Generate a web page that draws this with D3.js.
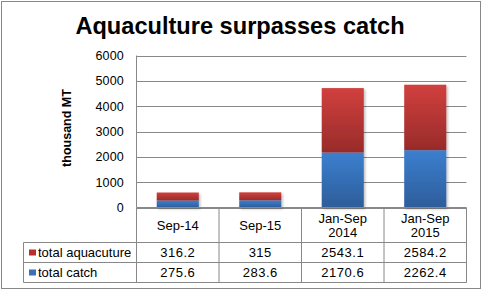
<!DOCTYPE html>
<html>
<head>
<meta charset="utf-8">
<script src="https://cdn.jsdelivr.net/npm/d3@7"></script>
<style>
  body { margin: 0; background: #fff; }
  text { font-family: "Liberation Sans", Arial, sans-serif; fill: #000; }
</style>
</head>
<body>
<svg id="chart" width="483" height="291"></svg>
<script>
// Aquaculture vs catch, stacked columns with a data table underneath.
const categories = [["Sep-14"], ["Sep-15"], ["Jan-Sep", "2014"], ["Jan-Sep", "2015"]];
const catchVals = [275.6, 283.6, 2170.6, 2262.4];
const aquaVals  = [316.2, 315, 2543.1, 2584.2];
const catchLabels = ["275.6", "283.6", "2170.6", "2262.4"];
const aquaLabels  = ["316.2", "315", "2543.1", "2584.2"];
const yTicks = [0, 1000, 2000, 3000, 4000, 5000, 6000];

const svg = d3.select("#chart");
const defs = svg.append("defs");

function grad(id, c1, c2) {
    const g = defs.append("linearGradient").attr("id", id)
        .attr("x1", 0).attr("y1", 0).attr("x2", 0).attr("y2", 1);
    g.append("stop").attr("offset", "0%").attr("stop-color", c1);
    g.append("stop").attr("offset", "100%").attr("stop-color", c2);
}
grad("gRed", "#d1403e", "#982b2a");
grad("gBlue", "#3c7fcf", "#2d5d9a");

const f = defs.append("filter").attr("id", "shadow")
    .attr("x", "-20%").attr("y", "-20%").attr("width", "150%").attr("height", "150%");
f.append("feDropShadow").attr("dx", 1.5).attr("dy", 1.5).attr("stdDeviation", 1.2)
    .attr("flood-color", "#000").attr("flood-opacity", 0.25);

// outer frame
svg.append("rect").attr("x", 1.5).attr("y", 1.5).attr("width", 479).attr("height", 287)
    .attr("fill", "none").attr("stroke", "#888").attr("stroke-width", 1);

svg.append("text").attr("x", 240).attr("y", 33.5).attr("text-anchor", "middle")
    .style("font-weight", "bold").style("font-size", "23.6px")
    .text("Aquaculture surpasses catch");

const pLeft = 136.5, pRight = 466.5, pTop = 55.5, pBottom = 207.5;

const x = d3.scaleBand().domain(d3.range(categories.length))
    .range([pLeft, pRight]).paddingInner(0.49).paddingOuter(0.245);
const y = d3.scaleLinear().domain([0, 6000]).range([pBottom, pTop]);

// gridlines
svg.append("g").selectAll("line").data(yTicks).join("line")
    .attr("x1", pLeft).attr("x2", pRight)
    .attr("y1", d => Math.round(y(d)) + 0.5).attr("y2", d => Math.round(y(d)) + 0.5)
    .attr("stroke", "#888");

// y axis line
svg.append("line").attr("x1", pLeft).attr("x2", pLeft).attr("y1", pTop).attr("y2", pBottom)
    .attr("stroke", "#888");

svg.append("g").selectAll("text").data(yTicks).join("text")
    .attr("x", 124).attr("y", d => y(d) + 4.5).attr("text-anchor", "end")
    .style("font-size", "12.5px").style("letter-spacing", "0.2px").text(d => d);

svg.append("text").attr("transform", "translate(71,128) rotate(-90)")
    .attr("text-anchor", "middle").style("font-weight", "bold").style("font-size", "12.5px")
    .text("thousand MT");

// stacked bars
const bars = svg.append("g").attr("filter", "url(#shadow)");
bars.selectAll("rect.catch").data(catchVals).join("rect").attr("class", "catch")
    .attr("x", (d, i) => x(i)).attr("width", x.bandwidth())
    .attr("y", d => y(d)).attr("height", d => y(0) - y(d))
    .attr("fill", "url(#gBlue)");
bars.selectAll("rect.aqua").data(aquaVals).join("rect").attr("class", "aqua")
    .attr("x", (d, i) => x(i)).attr("width", x.bandwidth())
    .attr("y", (d, i) => y(d + catchVals[i])).attr("height", (d, i) => y(catchVals[i]) - y(d + catchVals[i]))
    .attr("fill", "url(#gRed)");

// data table
const step = (pRight - pLeft) / categories.length;
const colX = d3.range(categories.length + 1).map(i => pLeft + i * step);
const rowY = [pBottom, 242.5, 262.5, 282.5];
const legLeft = 23.5;
const tbl = svg.append("g").attr("stroke", "#888").attr("fill", "none");
colX.forEach(cx => {
    tbl.append("line").attr("x1", cx).attr("x2", cx).attr("y1", pBottom).attr("y2", rowY[3]);
});
tbl.append("line").attr("x1", legLeft).attr("x2", legLeft).attr("y1", rowY[1]).attr("y2", rowY[3]);
tbl.append("line").attr("x1", pLeft).attr("x2", pRight).attr("y1", rowY[0]).attr("y2", rowY[0]);
[1, 2, 3].forEach(r => {
    tbl.append("line").attr("x1", legLeft).attr("x2", pRight).attr("y1", rowY[r]).attr("y2", rowY[r]);
});

categories.forEach((lines, i) => {
    const cx = pLeft + (i + 0.5) * step;
    const t = svg.append("text").attr("text-anchor", "middle").style("font-size", "13px");
    const y0 = lines.length === 1 ? 229.5 : 222.5;
    lines.forEach((l, j) => t.append("tspan").attr("x", cx).attr("y", y0 + j * 14).text(l));
});

const rows = [
    { name: "total aquacuture", labels: aquaLabels, color: "#b8302e" },
    { name: "total catch", labels: catchLabels, color: "#3a6fbb" }
];
rows.forEach((r, k) => {
    const ty = rowY[k + 1] + 14.5;
    r.labels.forEach((lab, i) => {
        svg.append("text").attr("x", pLeft + (i + 0.5) * step).attr("y", ty)
            .attr("text-anchor", "middle").style("font-size", "13px").style("letter-spacing", "0.5px")
            .text(lab);
    });
    svg.append("rect").attr("x", 29).attr("y", rowY[k + 1] + 7).attr("width", 7).attr("height", 6)
        .attr("fill", r.color);
    svg.append("text").attr("x", 38).attr("y", ty).style("font-size", "13px").text(r.name);
});
</script>
</body>
</html>
